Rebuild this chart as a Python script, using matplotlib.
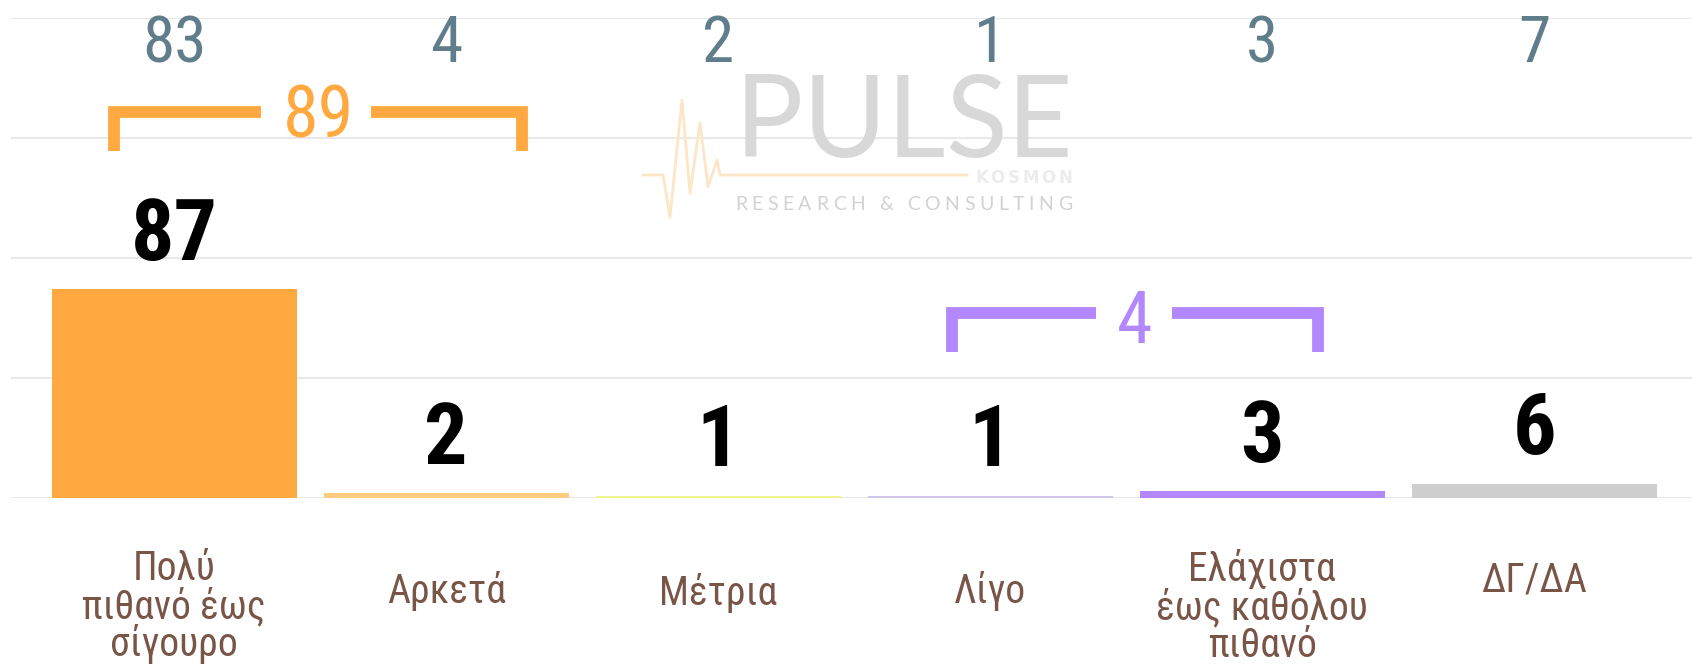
import matplotlib.pyplot as plt
import matplotlib.transforms as mtransforms
import numpy as np

plt.rcParams['font.family'] = ['Roboto Condensed', 'Roboto', 'DejaVu Sans']

categories = ['Πολύ\nπιθανό έως\nσίγουρο', 'Αρκετά', 'Μέτρια', 'Λίγο',
              'Ελάχιστα\nέως καθόλου\nπιθανό', 'ΔΓ/ΔΑ']
current = [87, 2, 1, 1, 3, 6]
previous = [83, 4, 2, 1, 3, 7]
bar_colors = ['#FFA940', '#FFCC80', '#EEF58F', '#D1C4E9', '#B388FF', '#CFCFCF']

# grouped totals: (first index, last index, total, colour)
groups = [(0, 1, 89, '#FFA940'), (3, 4, 4, '#B388FF')]

W, H = 1692, 669
fig = plt.figure(figsize=(W / 100, H / 100), dpi=100)
ax = fig.add_axes([11 / W, 171 / H, 1 - 11 / W, 480 / H])
ax.patch.set_alpha(0)

x = np.arange(len(categories))
ax.bar(x, current, width=0.9, color=bar_colors, zorder=2)

ax.set_xlim(-0.6, 5.58)
ax.set_ylim(0, 200)
ax.set_yticks([0, 50, 100, 150, 200])
ax.yaxis.grid(True, color='#e8e8e8', lw=1.5, zorder=0)
ax.set_axisbelow(True)
ax.tick_params(left=False, bottom=False, labelleft=False, labelbottom=False)
for s in ax.spines.values():
    s.set_visible(False)

# bold values above bars
for i, v in enumerate(current):
    ax.annotate(str(v), (i, v), xytext=(0, 21), textcoords='offset points',
                ha='center', va='baseline', fontsize=62, fontweight='bold',
                color='black', zorder=3)

# previous values on top row
for i, v in enumerate(previous):
    ax.text(i, 181.5, str(v), ha='center', va='baseline', fontsize=47,
            color='#607D8B', zorder=3)

# brackets for grouped totals
bracket_style = {0: (-0.22, 1.28, 160.8, 144.6, 0.32, 0.725, 150),
                 3: (2.86, 4.205, 77, 61, 3.39, 3.67, 64.6)}
for a, b, total, col in groups:
    xl, xr, ytop, ybot, g0, g1, ytxt = bracket_style[a]
    kw = dict(color=col, lw=8.5, solid_capstyle='butt', solid_joinstyle='miter',
              clip_on=False, zorder=3)
    ax.plot([xl, xl, g0], [ybot, ytop, ytop], **kw)
    ax.plot([g1, xr, xr], [ytop, ytop, ybot], **kw)
    ax.text((xl + xr) / 2, ytxt, str(total), ha='center', va='baseline',
            fontsize=52, color=col, zorder=3)

# category labels below the axis (top of text box in pixels from figure top)
label_top_px = [549, 571, 573, 571, 549, 561]
trans = mtransforms.blended_transform_factory(ax.transData, fig.transFigure)
for i, (lab, top) in enumerate(zip(categories, label_top_px)):
    ax.text(i, 1 - top / H, lab, transform=trans, ha='center', va='top',
            multialignment='center', fontsize=28.5, color='#795548',
            linespacing=0.95, clip_on=False)


# watermark logo ------------------------------------------------------------
renderer = fig.canvas.get_renderer()


def tracked(s, x0, x1, base, **kw):
    # spread the letters of s so that they fill x0..x1 (pixels)
    widths = []
    for ch in s:
        t = fig.text(0, 0, ch, **kw)
        widths.append(t.get_window_extent(renderer).width)
        t.remove()
    gap = (x1 - x0 - sum(widths)) / (len(s) - 1)
    cx = x0
    for ch, w in zip(s, widths):
        fig.text(cx / W, 1 - base / H, ch, ha='left', va='baseline', zorder=1, **kw)
        cx += w + gap


tracked('PULSE', 735, 1072, 157, fontsize=82, fontweight='normal',
        family=['Lato', 'Roboto'], color='#d8d8d8')
tracked('KOSMON', 975, 1072, 183, fontsize=12, fontweight='bold',
        family=['DejaVu Sans'], color='#ececec')
tracked('RESEARCH & CONSULTING', 735, 1072, 210, fontsize=14,
        family=['Lato', 'Roboto'], color='#d2d2d2')
pulse_x = [643, 663, 670, 682, 690, 700, 708, 717, 720, 967]
pulse_y = [175, 175, 217, 100, 193, 123, 187, 160, 175, 175]
fig.add_artist(plt.Line2D(np.array(pulse_x) / W, 1 - np.array(pulse_y) / H,
                          transform=fig.transFigure, color='#fde6c8', lw=2,
                          zorder=1))

fig.savefig('out.png', dpi=100)
